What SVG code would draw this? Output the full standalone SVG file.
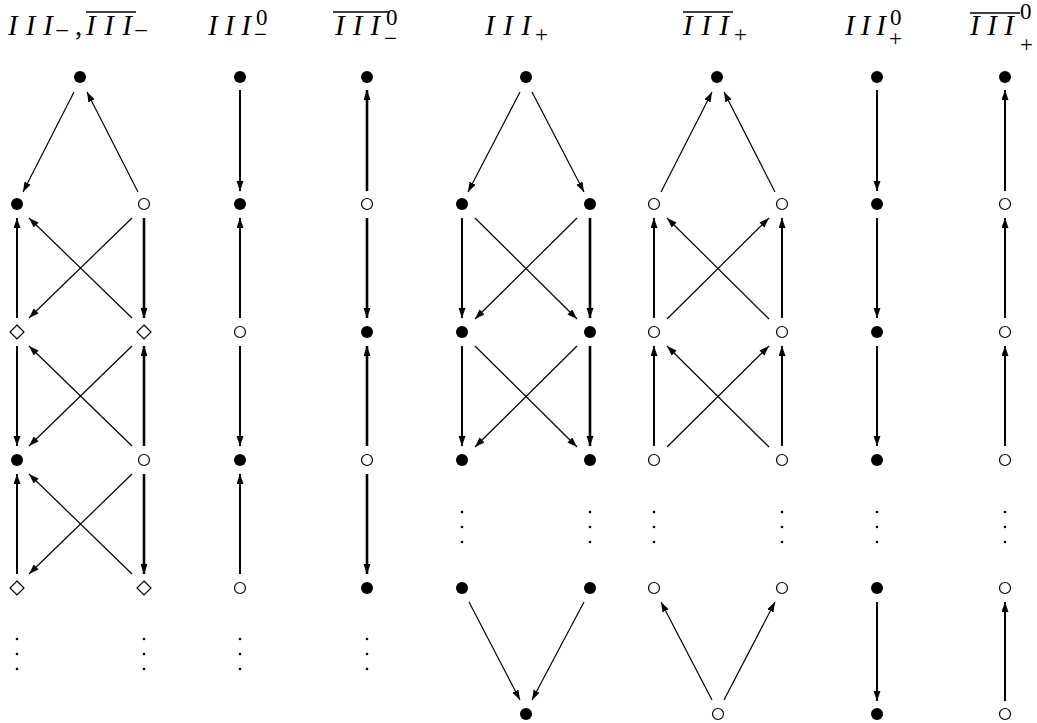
<svg xmlns="http://www.w3.org/2000/svg" width="1037" height="723" viewBox="0 0 1037 723">
<style>
.f{fill:#000}
.o{fill:#fff;stroke:#000;stroke-width:1.2}
.d{fill:#000}
.e{stroke:#000;fill:none;marker-end:url(#ah)}
.t{stroke-width:1.2}
.v{stroke-width:2}
.w{stroke-width:2.6}
.h{font-family:"Liberation Serif","Times New Roman",serif;font-size:29px;fill:#000}
.i{font-style:italic}
.s{font-size:23px}
.m{font-size:25px}
.p{font-size:23px}
.ov{stroke:#000;stroke-width:1.5}
</style>
<defs>
<marker id="ah" markerUnits="userSpaceOnUse" markerWidth="11" markerHeight="8" refX="10" refY="3.5" orient="auto">
<path d="M0,0 L10,3.5 L0,7 Z" fill="#000"/>
</marker>
<circle id="F" r="6" class="f"/>
<circle id="O" r="5.5" class="o"/>
<polygon id="D" points="0,-7 7,0 0,7 -7,0" class="o"/>
<g id="dots"><circle cy="0" r="1.3" class="d"/><circle cy="15" r="1.3" class="d"/><circle cy="30" r="1.3" class="d"/></g>
</defs>

<g id="headers">
<g id="h1">
<line class="ov" x1="86" y1="12" x2="136" y2="12"/>
<text class="h"><tspan class="i" x="8" y="35" textLength="45" lengthAdjust="spacing">III</tspan><tspan class="m" x="55" y="39">−</tspan><tspan x="75" y="35">,</tspan><tspan class="i" x="86" y="35" textLength="46" lengthAdjust="spacing">III</tspan><tspan class="m" x="134" y="39">−</tspan></text>
</g>
<g id="h2">
<text class="h i" x="208" y="35" textLength="43" lengthAdjust="spacing">III</text>
<text class="h s" x="256 254" y="25 42">0−</text>
</g>
<g id="h3">
<line class="ov" x1="333" y1="12" x2="390" y2="12"/>
<text class="h i" x="335" y="35" textLength="45" lengthAdjust="spacing">III</text>
<text class="h s" x="386 384" y="25 46">0−</text>
</g>
<g id="h4">
<text class="h"><tspan class="i" x="485" y="35" textLength="46" lengthAdjust="spacing">III</tspan><tspan class="p" x="535" y="42">+</tspan></text>
</g>
<g id="h5">
<line class="ov" x1="683" y1="12" x2="733" y2="12"/>
<text class="h"><tspan class="i" x="683" y="35" textLength="46" lengthAdjust="spacing">III</tspan><tspan class="p" x="734" y="42">+</tspan></text>
</g>
<g id="h6">
<text class="h i" x="845" y="35" textLength="41" lengthAdjust="spacing">III</text>
<text class="h s" x="890 889" y="25 46">0+</text>
</g>
<g id="h7">
<line class="ov" x1="970" y1="13" x2="1020" y2="13"/>
<text class="h i" x="970" y="35" textLength="44" lengthAdjust="spacing">III</text>
<text class="h s" x="1020 1020" y="19 52">0+</text>
</g>
</g>

<g id="connectors">
<path class="e t" d="M74,92 L23,192"/>
<path class="e t" d="M138,192 L87,92"/>
<path class="e v" d="M17,318 L17,218"/>
<path class="e w" d="M144,218 L144,318"/>
<path class="e t" d="M132,318 L29,218"/>
<path class="e t" d="M132,218 L29,318"/>
<path class="e v" d="M17,346 L17,446"/>
<path class="e w" d="M144,446 L144,346"/>
<path class="e t" d="M132,446 L29,346"/>
<path class="e t" d="M132,346 L29,446"/>
<path class="e v" d="M17,574 L17,474"/>
<path class="e w" d="M144,474 L144,574"/>
<path class="e t" d="M132,574 L29,474"/>
<path class="e t" d="M132,474 L29,574"/>
<path class="e v" d="M240,90 L240,191"/>
<path class="e v" d="M240,318 L240,218"/>
<path class="e v" d="M240,346 L240,446"/>
<path class="e v" d="M240,574 L240,474"/>
<path class="e w" d="M367,191 L367,90"/>
<path class="e w" d="M367,218 L367,318"/>
<path class="e w" d="M367,446 L367,346"/>
<path class="e w" d="M367,474 L367,574"/>
<path class="e t" d="M520,92 L468,192"/>
<path class="e t" d="M532,92 L584,192"/>
<path class="e v" d="M462,218 L462,318"/>
<path class="e w" d="M590,218 L590,318"/>
<path class="e t" d="M475,218 L577,319"/>
<path class="e t" d="M577,218 L475,319"/>
<path class="e v" d="M462,346 L462,446"/>
<path class="e w" d="M590,346 L590,446"/>
<path class="e t" d="M475,346 L577,447"/>
<path class="e t" d="M577,346 L475,447"/>
<path class="e t" d="M469,602 L520,700"/>
<path class="e t" d="M584,602 L532,700"/>
<path class="e t" d="M661,192 L712,92"/>
<path class="e t" d="M775,192 L724,92"/>
<path class="e v" d="M654,318 L654,218"/>
<path class="e v" d="M782,318 L782,218"/>
<path class="e t" d="M769,319 L667,218"/>
<path class="e t" d="M667,319 L769,218"/>
<path class="e v" d="M654,446 L654,346"/>
<path class="e v" d="M782,446 L782,346"/>
<path class="e t" d="M769,447 L667,346"/>
<path class="e t" d="M667,447 L769,346"/>
<path class="e t" d="M712,700 L661,602"/>
<path class="e t" d="M724,700 L775,602"/>
<path class="e v" d="M877,90 L877,191"/>
<path class="e v" d="M877,218 L877,318"/>
<path class="e v" d="M877,346 L877,446"/>
<path class="e v" d="M877,602 L877,701"/>
<path class="e v" d="M1005,191 L1005,90"/>
<path class="e v" d="M1005,318 L1005,218"/>
<path class="e v" d="M1005,446 L1005,346"/>
<path class="e v" d="M1005,701 L1005,602"/>
</g>

<g id="col1">
<use href="#F" x="80" y="77"/>
<use href="#F" x="17" y="204"/><use href="#O" x="144" y="204"/>
<use href="#D" x="17" y="332"/><use href="#D" x="144" y="332"/>
<use href="#F" x="17" y="460"/><use href="#O" x="144" y="460"/>
<use href="#D" x="17" y="588"/><use href="#D" x="144" y="588"/>
<use href="#dots" x="17" y="639"/><use href="#dots" x="144" y="639"/>
</g>
<g id="col2">
<use href="#F" x="240" y="77"/><use href="#F" x="240" y="204"/><use href="#O" x="240" y="332"/>
<use href="#F" x="240" y="460"/><use href="#O" x="240" y="588"/>
<use href="#dots" x="240" y="639"/>
</g>
<g id="col3">
<use href="#F" x="367" y="77"/><use href="#O" x="367" y="204"/><use href="#F" x="367" y="332"/>
<use href="#O" x="367" y="460"/><use href="#F" x="367" y="588"/>
<use href="#dots" x="367" y="639"/>
</g>
<g id="col4">
<use href="#F" x="526" y="77"/>
<use href="#F" x="462" y="204"/><use href="#F" x="590" y="204"/>
<use href="#F" x="462" y="332"/><use href="#F" x="590" y="332"/>
<use href="#F" x="462" y="460"/><use href="#F" x="590" y="460"/>
<use href="#dots" x="462" y="512"/><use href="#dots" x="590" y="512"/>
<use href="#F" x="462" y="588"/><use href="#F" x="590" y="588"/>
<use href="#F" x="526" y="714"/>
</g>
<g id="col5">
<use href="#F" x="717" y="77"/>
<use href="#O" x="654" y="204"/><use href="#O" x="782" y="204"/>
<use href="#O" x="654" y="332"/><use href="#O" x="782" y="332"/>
<use href="#O" x="654" y="460"/><use href="#O" x="782" y="460"/>
<use href="#dots" x="654" y="512"/><use href="#dots" x="782" y="512"/>
<use href="#O" x="654" y="588"/><use href="#O" x="782" y="588"/>
<use href="#O" x="718" y="714"/>
</g>
<g id="col6">
<use href="#F" x="877" y="77"/><use href="#F" x="877" y="204"/><use href="#F" x="877" y="332"/>
<use href="#F" x="877" y="460"/><use href="#dots" x="877" y="512"/>
<use href="#F" x="877" y="588"/><use href="#F" x="877" y="714"/>
</g>
<g id="col7">
<use href="#F" x="1005" y="77"/><use href="#O" x="1005" y="204"/><use href="#O" x="1005" y="332"/>
<use href="#O" x="1005" y="460"/><use href="#dots" x="1005" y="512"/>
<use href="#O" x="1005" y="588"/><use href="#O" x="1005" y="714"/>
</g>
</svg>
